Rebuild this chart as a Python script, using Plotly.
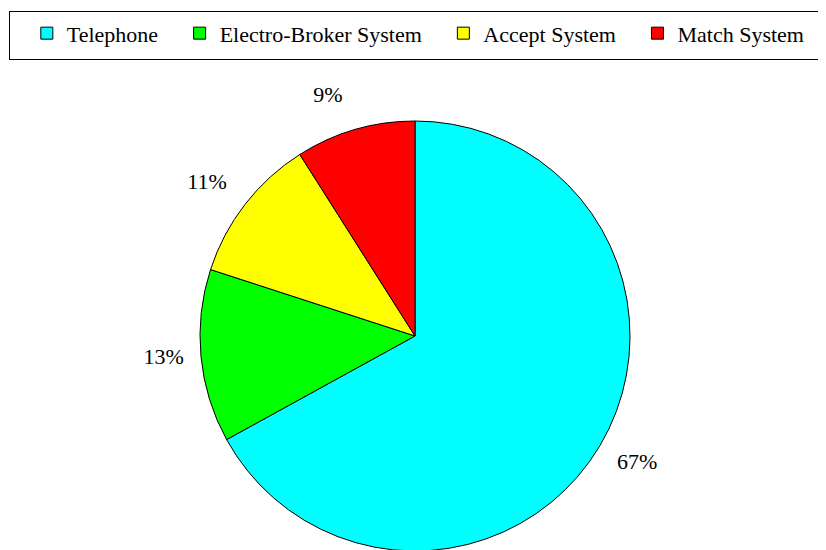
import plotly.graph_objects as go

# Share of trades by execution channel
channels = ["Telephone", "Electro-Broker System", "Accept System", "Match System"]
shares = [67, 13, 11, 9]
colours = ["#00FFFF", "#00FF00", "#FFFF00", "#FF0000"]

FONT = "Times New Roman"
NB = "\u00a0"


def pad(size):
    return "<span style='font-size:%dpx'>%s</span>" % (size, NB)


# a little trailing space widens the gap between legend entries
legend_names = [c + NB * 3 for c in channels]

# push the outside labels a bit further from the rim, as in the original
label_tpl = [
    pad(14) + "<br>" + NB + "%{percent:.0%}",
    "%{percent:.0%}" + NB * 2,
    "%{percent:.0%}" + NB + "<br>" + pad(14),
    "%{percent:.0%}<br>" + pad(6),
]

fig = go.Figure(go.Pie(
    labels=legend_names,
    values=shares,
    sort=False,
    direction="clockwise",
    rotation=0,
    domain=dict(x=[0.0, 0.9855], y=[0, 1]),
    marker=dict(colors=colours, line=dict(color="#000000", width=1)),
    textinfo="percent",
    texttemplate=label_tpl,
    textposition="outside",
    textfont=dict(family=FONT, size=22, color="#000000"),
    hoverinfo="label+percent",
))

fig.update_layout(
    width=826,
    height=550,
    paper_bgcolor="#FFFFFF",
    plot_bgcolor="#FFFFFF",
    font=dict(family=FONT, color="#000000", size=22),
    margin=dict(l=0, r=0, t=113, b=7, autoexpand=False),
    showlegend=True,
    legend=dict(
        orientation="h",
        xanchor="left",
        x=0.001,
        yanchor="top",
        y=1.255,
        bordercolor="#000000",
        borderwidth=1,
        bgcolor="#FFFFFF",
        font=dict(family=FONT, size=22, color="#000000"),
        title=dict(text=NB, side="left", font=dict(size=28)),
        itemclick=False,
    ),
)

fig.write_html("out.html")
